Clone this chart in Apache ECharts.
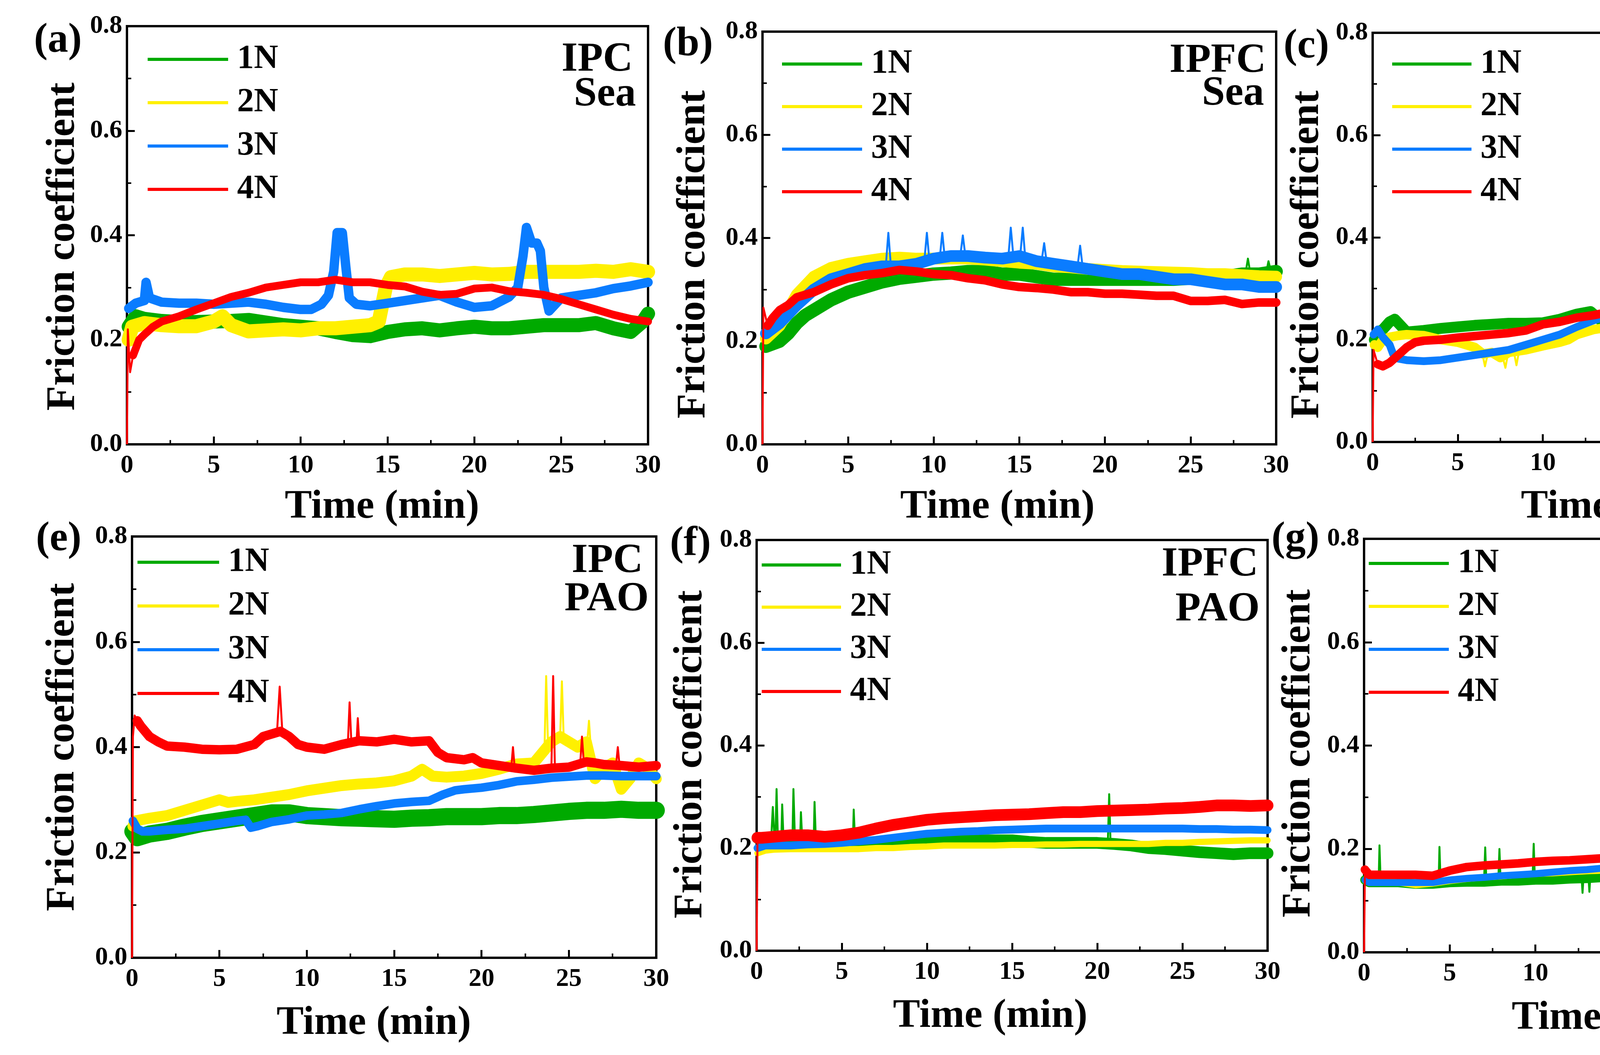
<!DOCTYPE html>
<html><head><meta charset="utf-8">
<script src="https://cdn.jsdelivr.net/npm/echarts/dist/echarts.min.js"></script>
<style>html,body{margin:0;padding:0;background:#fff;overflow:hidden}#c{width:6532px;height:2702px}</style>
</head><body><div id="c"></div>
<script>
// ---------------- DATA ----------------
const lineNames = ['1N','2N','3N','4N'];
const barCats = ['1 N','2 N','3 N','4 N'];
const yTicksFriction = [0, 0.2, 0.4, 0.6, 0.8];

// (a) IPC / Sea
const a1N = [[0.1,0.225],[0.5,0.245],[1,0.24],[2,0.236],[3,0.234],[4,0.234],[5,0.235],[6,0.236],[7,0.238],[8,0.233],[9,0.228],[10,0.225],[11,0.222],[12,0.215],[13,0.209],[14,0.207],[15,0.215],[16,0.22],[17,0.222],[18,0.218],[19,0.222],[20,0.225],[21,0.222],[22,0.222],[23,0.225],[24,0.228],[25,0.228],[26,0.228],[27,0.232],[28,0.222],[29,0.215],[29.7,0.235],[30,0.25]];
const a2N = [[0.1,0.2],[0.3,0.225],[1,0.232],[2,0.228],[3,0.226],[4,0.226],[5,0.235],[5.5,0.245],[6,0.228],[7,0.216],[8,0.218],[9,0.22],[10,0.218],[11,0.222],[12,0.222],[13,0.225],[14,0.228],[14.5,0.235],[14.9,0.3],[15.2,0.32],[16,0.325],[17,0.325],[18,0.322],[19,0.325],[20,0.328],[21,0.325],[22,0.326],[23,0.33],[24,0.33],[25,0.33],[26,0.33],[27,0.332],[28,0.33],[29,0.335],[30,0.33]];
const a3N = [[0.1,0.26],[0.5,0.27],[1,0.275],[1.1,0.31],[1.3,0.28],[2,0.272],[3,0.27],[4,0.27],[5,0.268],[6,0.27],[7,0.272],[8,0.268],[9,0.262],[10,0.258],[10.6,0.258],[11.2,0.268],[11.6,0.285],[11.9,0.33],[12.1,0.405],[12.4,0.405],[12.6,0.34],[12.8,0.28],[13.2,0.268],[14,0.265],[15,0.27],[16,0.275],[17,0.28],[18,0.285],[19,0.272],[20,0.262],[21,0.265],[22,0.282],[22.5,0.3],[22.8,0.36],[23,0.415],[23.3,0.385],[23.6,0.385],[23.8,0.37],[24,0.3],[24.3,0.255],[25,0.28],[26,0.285],[27,0.29],[28,0.298],[29,0.303],[30,0.31]];
const a4N = [[0.35,0.17],[0.7,0.2],[1,0.21],[1.5,0.225],[2,0.235],[3,0.245],[4,0.258],[5,0.27],[6,0.282],[7,0.29],[8,0.3],[9,0.305],[10,0.31],[11,0.31],[12,0.315],[13,0.31],[14,0.31],[15,0.305],[16,0.302],[17,0.292],[18,0.286],[19,0.288],[20,0.298],[21,0.3],[22,0.293],[23,0.29],[24,0.286],[25,0.278],[26,0.268],[27,0.258],[28,0.248],[29,0.24],[30,0.235]];
const a4N_pk = [[0,0],[0.05,0.22],[0.18,0.138],[0.35,0.17]];

// (b) IPFC / Sea
const b1N = [[0.2,0.19],[0.6,0.195],[1,0.2],[1.5,0.215],[2,0.235],[2.5,0.25],[3,0.26],[4,0.28],[5,0.295],[6,0.305],[7,0.315],[8,0.322],[9,0.326],[10,0.33],[11,0.332],[12,0.335],[13,0.335],[14,0.33],[15,0.33],[16,0.325],[17,0.32],[18,0.32],[19,0.32],[20,0.32],[21,0.32],[22,0.32],[23,0.32],[24,0.32],[25,0.322],[26,0.325],[27,0.325],[28,0.33],[29,0.33],[30,0.335]];
const b1N_pk = [[28.2,0.33],[28.35,0.36],[28.5,0.33],'-',[29.4,0.33],[29.55,0.355],[29.7,0.335]];
const b2N = [[0.2,0.205],[1,0.23],[2,0.29],[3,0.325],[4,0.342],[5,0.35],[6,0.355],[7,0.36],[8,0.362],[9,0.36],[10,0.36],[11,0.36],[12,0.36],[13,0.358],[14,0.355],[15,0.352],[16,0.35],[17,0.345],[18,0.343],[19,0.34],[20,0.338],[21,0.336],[22,0.335],[23,0.334],[24,0.333],[25,0.332],[26,0.33],[27,0.33],[28,0.328],[29,0.326],[30,0.325]];
const b3N = [[0.2,0.215],[1,0.235],[2,0.27],[3,0.3],[4,0.32],[5,0.33],[6,0.34],[7,0.345],[8,0.345],[9,0.35],[10,0.36],[11,0.365],[12,0.365],[13,0.362],[14,0.36],[15,0.365],[16,0.355],[17,0.35],[18,0.345],[19,0.34],[20,0.335],[21,0.33],[22,0.33],[23,0.325],[24,0.32],[25,0.32],[26,0.315],[27,0.31],[28,0.31],[29,0.305],[30,0.305]];
const b3N_pk = [[7.2,0.345],[7.35,0.41],[7.5,0.345],'-',[9.45,0.355],[9.6,0.41],[9.75,0.355],'-',[10.35,0.36],[10.5,0.41],[10.65,0.36],'-',[11.55,0.365],[11.7,0.405],[11.85,0.365],'-',[14.35,0.36],[14.5,0.42],[14.65,0.365],'-',[15.05,0.365],[15.2,0.42],[15.35,0.36],'-',[16.3,0.355],[16.45,0.39],[16.6,0.352],'-',[18.4,0.345],[18.55,0.385],[18.7,0.343]];
const b4N = [[0.3,0.23],[0.6,0.245],[1,0.26],[1.5,0.27],[2,0.285],[3,0.295],[4,0.31],[5,0.322],[6,0.328],[7,0.332],[8,0.338],[9,0.335],[10,0.33],[11,0.328],[12,0.322],[13,0.318],[14,0.31],[15,0.305],[16,0.303],[17,0.3],[18,0.295],[19,0.295],[20,0.292],[21,0.292],[22,0.29],[23,0.288],[24,0.288],[25,0.278],[26,0.278],[27,0.28],[28,0.272],[29,0.275],[30,0.275]];
const b4N_pk = [[0,0],[0.05,0.265],[0.3,0.23]];

// (c) IPEFC / Sea
const c1N = [[0.1,0.2],[0.3,0.215],[0.6,0.22],[1,0.235],[1.3,0.24],[2,0.215],[3,0.218],[4,0.222],[5,0.225],[6,0.228],[7,0.23],[8,0.232],[9,0.232],[10,0.233],[11,0.24],[12,0.25],[12.8,0.255],[13.5,0.235],[14,0.225],[15,0.215],[16,0.212],[17,0.21],[18,0.212],[19,0.208],[20,0.21],[21,0.215],[22,0.222],[23,0.23],[24,0.235],[25,0.245],[26,0.26],[27,0.272],[28,0.28],[29,0.285],[30,0.29]];
const c2N = [[0.1,0.19],[0.3,0.185],[0.6,0.2],[1,0.205],[1.5,0.208],[2,0.21],[3,0.208],[4,0.2],[5,0.195],[6,0.185],[6.5,0.172],[7,0.175],[7.5,0.165],[8,0.175],[9,0.18],[10,0.188],[11,0.195],[11.5,0.2],[12,0.21],[13,0.22],[14,0.225],[15,0.23],[16,0.228],[17,0.225],[18,0.222],[19,0.218],[20,0.215],[21,0.215],[22,0.215],[23,0.212],[24,0.21],[25,0.212],[26,0.212],[27,0.21],[28,0.21],[29,0.213],[30,0.215]];
const c2N_pk = [[6.45,0.172],[6.6,0.148],[6.75,0.17],'-',[7.65,0.165],[7.8,0.145],[7.95,0.172],'-',[8.3,0.176],[8.45,0.15],[8.6,0.177]];
const c3N = [[0.05,0.21],[0.3,0.22],[0.6,0.205],[1,0.19],[1.2,0.172],[1.5,0.163],[2,0.16],[3,0.158],[4,0.16],[5,0.165],[6,0.17],[7,0.175],[8,0.18],[9,0.19],[10,0.2],[11,0.21],[12,0.225],[13,0.238],[14,0.248],[15,0.253],[16,0.255],[17,0.253],[18,0.25],[19,0.245],[20,0.243],[21,0.242],[22,0.242],[23,0.243],[24,0.245],[25,0.248],[26,0.25],[27,0.248],[28,0.245],[29,0.243],[30,0.24]];
const c4N = [[0.3,0.152],[0.6,0.148],[1,0.155],[1.5,0.17],[2,0.185],[2.5,0.195],[3,0.198],[4,0.2],[5,0.204],[6,0.207],[7,0.21],[8,0.213],[9,0.218],[10,0.23],[11,0.235],[12,0.243],[13,0.248],[14,0.255],[15,0.26],[16,0.263],[17,0.266],[18,0.27],[19,0.27],[20,0.272],[21,0.272],[22,0.272],[23,0.272],[24,0.272],[25,0.272],[26,0.272],[27,0.272],[28,0.27],[29,0.27],[30,0.27]];
const c4N_pk = [[0,0],[0.05,0.18],[0.3,0.152]];

// (e) IPC / PAO
const e1N = [[0.05,0.24],[0.3,0.228],[1,0.235],[2,0.24],[3,0.248],[4,0.255],[5,0.26],[6,0.265],[7,0.27],[8,0.275],[9,0.275],[10,0.27],[11,0.268],[12,0.266],[13,0.265],[14,0.264],[15,0.263],[16,0.265],[17,0.266],[18,0.268],[19,0.268],[20,0.268],[21,0.27],[22,0.27],[23,0.272],[24,0.275],[25,0.278],[26,0.28],[27,0.28],[28,0.282],[29,0.28],[30,0.28]];
const e2N = [[0.05,0.25],[0.2,0.26],[1,0.265],[2,0.27],[3,0.28],[4,0.29],[5,0.3],[5.5,0.295],[6,0.297],[7,0.3],[8,0.305],[9,0.31],[10,0.317],[11,0.322],[12,0.327],[13,0.33],[14,0.332],[15,0.336],[16,0.345],[16.6,0.358],[17.2,0.345],[18,0.343],[19,0.345],[20,0.35],[21,0.358],[22,0.368],[23,0.37],[23.5,0.39],[24,0.41],[24.5,0.42],[25,0.41],[25.5,0.4],[26,0.41],[26.5,0.34],[27,0.36],[27.5,0.37],[28,0.32],[28.5,0.34],[29,0.37],[29.5,0.36],[30,0.34]];
const e2N_pk = [[23.6,0.39],[23.7,0.535],[23.8,0.41],'-',[24.5,0.42],[24.6,0.525],[24.7,0.42],'-',[26.05,0.41],[26.15,0.45],[26.25,0.4]];
const e3N = [[0.05,0.26],[0.3,0.245],[0.6,0.24],[1,0.24],[2,0.243],[3,0.245],[4,0.25],[5,0.255],[6,0.26],[6.5,0.262],[6.8,0.247],[7.2,0.25],[8,0.258],[9,0.263],[10,0.27],[11,0.272],[12,0.275],[13,0.282],[14,0.288],[15,0.293],[16,0.296],[17,0.298],[17.8,0.31],[18.5,0.318],[19,0.32],[20,0.323],[21,0.328],[22,0.335],[23,0.338],[24,0.342],[25,0.344],[26,0.346],[27,0.346],[28,0.345],[29,0.345],[30,0.345]];
const e4N = [[0.3,0.45],[0.5,0.44],[1,0.42],[1.5,0.41],[2,0.402],[3,0.4],[4,0.396],[5,0.395],[6,0.396],[7,0.405],[7.5,0.42],[8,0.425],[8.5,0.43],[9,0.42],[9.5,0.405],[10,0.4],[11,0.396],[12,0.405],[13,0.412],[14,0.41],[15,0.415],[16,0.41],[17,0.412],[17.5,0.39],[18,0.38],[19,0.376],[19.5,0.38],[20,0.37],[21,0.365],[22,0.36],[23,0.356],[24,0.36],[25,0.362],[26,0.372],[26.5,0.37],[27,0.367],[28,0.365],[29,0.362],[30,0.365]];
const e4N_pk = [[0,0],[0.05,0.42],[0.15,0.46],[0.3,0.45],'-',[8.3,0.43],[8.45,0.515],[8.6,0.43],'-',[12.35,0.405],[12.45,0.485],[12.55,0.41],'-',[12.85,0.41],[12.92,0.455],[13.0,0.412],'-',[21.7,0.36],[21.8,0.4],[21.9,0.36],'-',[24.0,0.36],[24.1,0.535],[24.2,0.36],'-',[25.65,0.37],[25.75,0.42],[25.85,0.372],'-',[27.7,0.366],[27.8,0.4],[27.9,0.365]];

// (f) IPFC / PAO
const f1N = [[0.05,0.22],[0.5,0.215],[1,0.215],[2,0.215],[3,0.212],[4,0.21],[5,0.21],[6,0.21],[7,0.21],[8,0.212],[9,0.215],[10,0.215],[11,0.215],[12,0.215],[13,0.215],[14,0.215],[15,0.215],[16,0.212],[17,0.21],[18,0.21],[19,0.21],[20,0.21],[21,0.208],[22,0.205],[23,0.2],[24,0.198],[25,0.195],[26,0.192],[27,0.19],[28,0.188],[29,0.19],[30,0.19]];
const f1N_pk = [[0.85,0.215],[0.95,0.28],[1.05,0.215],'-',[1.1,0.215],[1.17,0.315],[1.25,0.215],'-',[1.45,0.215],[1.5,0.285],[1.58,0.215],'-',[2.1,0.215],[2.16,0.315],[2.25,0.215],'-',[2.55,0.213],[2.6,0.27],[2.68,0.213],'-',[3.35,0.212],[3.4,0.29],[3.48,0.212],'-',[5.65,0.21],[5.7,0.275],[5.78,0.21],'-',[20.62,0.21],[20.7,0.305],[20.78,0.21]];
const f2N = [[0.05,0.19],[0.5,0.195],[1,0.197],[2,0.198],[3,0.198],[4,0.198],[5,0.198],[6,0.198],[7,0.2],[8,0.2],[9,0.202],[10,0.203],[11,0.205],[12,0.205],[13,0.205],[14,0.205],[15,0.206],[16,0.206],[17,0.207],[18,0.207],[19,0.208],[20,0.208],[21,0.208],[22,0.208],[23,0.208],[24,0.21],[25,0.21],[26,0.212],[27,0.213],[28,0.214],[29,0.215],[30,0.215]];
const f3N = [[0.05,0.2],[0.5,0.205],[1,0.205],[2,0.205],[3,0.207],[4,0.208],[5,0.21],[6,0.213],[7,0.216],[8,0.22],[9,0.224],[10,0.228],[11,0.23],[12,0.232],[13,0.233],[14,0.235],[15,0.236],[16,0.237],[17,0.238],[18,0.238],[19,0.238],[20,0.238],[21,0.238],[22,0.238],[23,0.238],[24,0.238],[25,0.238],[26,0.237],[27,0.237],[28,0.236],[29,0.236],[30,0.235]];
const f4N = [[0.05,0.22],[0.3,0.22],[1,0.222],[2,0.225],[3,0.225],[4,0.222],[5,0.225],[6,0.23],[7,0.238],[8,0.245],[9,0.25],[10,0.255],[11,0.258],[12,0.26],[13,0.262],[14,0.264],[15,0.265],[16,0.266],[17,0.268],[18,0.27],[19,0.27],[20,0.272],[21,0.273],[22,0.274],[23,0.275],[24,0.277],[25,0.278],[26,0.28],[27,0.283],[28,0.283],[29,0.282],[30,0.283]];
const f4N_pk = [[0,0],[0.05,0.22]];

// (g) IPEFC / PAO
const g1N = [[0.05,0.14],[0.3,0.135],[1,0.135],[2,0.135],[3,0.132],[4,0.132],[5,0.135],[6,0.136],[7,0.136],[8,0.138],[9,0.138],[10,0.14],[11,0.14],[12,0.142],[13,0.143],[14,0.145],[15,0.146],[16,0.147],[17,0.148],[18,0.148],[19,0.148],[20,0.148],[21,0.15],[22,0.15],[23,0.15],[24,0.15],[25,0.152],[26,0.152],[27,0.153],[28,0.153],[29,0.152],[30,0.152]];
const g1N_pk = [[0.85,0.135],[0.9,0.207],[0.97,0.135],'-',[4.35,0.132],[4.4,0.204],[4.47,0.132],'-',[7.0,0.136],[7.07,0.203],[7.14,0.136],'-',[7.83,0.137],[7.9,0.2],[7.97,0.137],'-',[9.83,0.14],[9.9,0.21],[9.97,0.14],'-',[12.7,0.142],[12.75,0.115],[12.8,0.142],'-',[13.1,0.143],[13.15,0.117],[13.2,0.143],'-',[15.0,0.146],[15.05,0.12],[15.1,0.146]];
const g2N = [[0.05,0.16],[0.3,0.145],[1,0.14],[2,0.135],[3,0.13],[4,0.133],[5,0.138],[6,0.142],[7,0.145],[8,0.147],[9,0.15],[10,0.152],[11,0.153],[12,0.155],[13,0.157],[14,0.158],[15,0.16],[16,0.16],[17,0.16],[18,0.16],[19,0.16],[20,0.16],[21,0.162],[22,0.163],[23,0.165],[24,0.167],[25,0.168],[26,0.17],[27,0.17],[28,0.17],[29,0.171],[30,0.172]];
const g3N = [[0.05,0.14],[0.3,0.135],[1,0.135],[2,0.135],[3,0.135],[4,0.135],[5,0.14],[6,0.143],[7,0.145],[8,0.148],[9,0.15],[10,0.152],[11,0.155],[12,0.158],[13,0.16],[14,0.163],[15,0.165],[16,0.168],[17,0.17],[18,0.172],[19,0.174],[20,0.176],[21,0.178],[22,0.178],[23,0.18],[24,0.182],[25,0.184],[26,0.185],[27,0.186],[28,0.187],[29,0.188],[30,0.188]];
const g4N = [[0.05,0.16],[0.3,0.15],[1,0.15],[2,0.15],[3,0.15],[4,0.148],[5,0.158],[6,0.165],[7,0.168],[8,0.17],[9,0.172],[10,0.175],[11,0.177],[12,0.178],[13,0.18],[14,0.182],[15,0.183],[16,0.185],[17,0.185],[18,0.186],[19,0.186],[20,0.188],[21,0.19],[22,0.19],[23,0.19],[24,0.192],[25,0.193],[26,0.195],[27,0.196],[28,0.196],[29,0.196],[30,0.196]];
const g4N_pk = [[0,0],[0.05,0.16]];

// (d) wear track width, sea water
const dIPC = [0.350,0.368,0.368,0.481],  dIPC_err = [0.030,0.031,0.032,0.047];
const dIPFC = [0.376,0.350,0.363,0.439], dIPFC_err = [0.039,0.031,0.030,0.033];
const dIPEFC = [0.361,0.335,0.331,0.368], dIPEFC_err = [0.045,0.052,0.047,0.023];
// (h) wear track width, PAO
const hIPC = [0.362,0.389,0.448,0.478],  hIPC_err = [0.046,0.017,0.037,0.034];
const hIPFC = [0.365,0.369,0.410,0.454], hIPFC_err = [0.023,0.055,0.027,0.008];
const hIPFFC = [0.209,0.223,0.284,0.311], hIPFFC_err = [0.039,0.039,0.032,0.045];

// ---------------- LAYOUT & STYLE ----------------
const F = 'Liberation Serif';
const lineColors = ['#00AA00','#FFF000','#0A7CFF','#FF0000'];
const GRIDS = [
  [325,67,1334,1071],[1952,81,1315,1057],[3514,84,1307,1048],[5109,97,1354,1091],
  [338,1374,1342,1079],[1937,1383,1308,1052],[3492,1380,1316,1059],[5101,1397,1386,1114]
];
const LP = [
  {g:0,d:[a1N,a2N,a3N,a4N],pk:[null,null,null,a4N_pk],w:[36,36,24,20],xg:109,xp:28,yg:111,yp:58,lg:[378,109,206,25],t:[['IPC',1620,154],['Sea',1628,243]],lab:['(a)',87,105]},
  {g:1,d:[b1N,b2N,b3N,b4N],pk:[b1N_pk,null,b3N_pk,b4N_pk],w:[34,30,30,22],xg:109,xp:112,yg:124,yp:84,lg:[2002,121,205,23],t:[['IPFC',3241,157],['Sea',3236,241]],lab:['(b)',1697,115]},
  {g:2,d:[c1N,c2N,c3N,c4N],pk:[null,c2N_pk,null,c4N_pk],w:[28,24,20,22],xg:115,xp:50,yg:115,yp:88,lg:[3564,121,203,23],t:[['IPEFC',4789,162],['Sea',4783,272]],lab:['(c)',3286,120]},
  {g:4,d:[e1N,e2N,e3N,e4N],pk:[null,e2N_pk,null,e4N_pk],w:[44,28,22,24],xg:116,xp:104,yg:125,yp:0,lg:[352,1397,209,26],t:[['IPC',1646,1438],['PAO',1661,1536]],lab:['(e)',92,1382]},
  {g:5,d:[f1N,f2N,f3N,f4N],pk:[f1N_pk,null,null,f4N_pk],w:[30,16,20,30],xg:116,xp:112,yg:117,yp:46,lg:[1950,1404,203,22],t:[['IPFC',3221,1447],['PAO',3225,1562]],lab:['(f)',1715,1394]},
  {g:6,d:[g1N,g2N,g3N,g4N],pk:[g1N_pk,null,null,g4N_pk],w:[24,16,18,22],xg:117,xp:62,yg:115,yp:40,lg:[3504,1400,205,24],t:[['IPEFC',4791,1437],['PAO',4791,1546]],lab:['(g)',3255,1382]}
];
const BAR_GAP = 0.19;
const BP = [
  {g:3,s:[['IPC',dIPC,dIPC_err,'#8C9EFF'],['IPFC',dIPFC,dIPFC_err,'#FFB3FF'],['IPEFC',dIPEFC,dIPEFC_err,'#47D7FF']],
   yg:139,yp:88,yl:68,lg:[5158,121,143,69,80,80,17.5],note:['Under Sea Condition',6449,177,72],lab:['(d)',4840,128]},
  {g:7,s:[['IPC',hIPC,hIPC_err,'#80E500'],['IPFC',hIPFC,hIPFC_err,'#EEE660'],['IPFFC',hIPFFC,hIPFFC_err,'#FFA85E']],
   yg:133,yp:0,yl:72,lg:[5138,1421,189,94,92,94,21],note:['Under PAO Condition',6470,1478,73],lab:['(h)',4842,1378]}
];

const lbl = s => ({fontFamily:F, fontWeight:'bold', fontSize:s, color:'#000'});
const axLine = {show:true, onZero:false, lineStyle:{color:'#000', width:6}};
const tick = len => ({show:true, inside:true, length:len, lineStyle:{color:'#000', width:5}});
const minor = {show:true, splitNumber:2, length:11, lineStyle:{color:'#000', width:4}};
const txt = (text, x, y, size, align) => ({type:'text', x, y, silent:true, z:100,
  style:{text, fill:'#000', font:'bold '+size+'px "'+F+'"', textAlign:align, align:align, textVerticalAlign:'middle', verticalAlign:'middle'}});

const xAxes = [], yAxes = [], series = [], legends = [], graphics = [];

LP.forEach((p, i) => {
  xAxes.push({type:'value', gridIndex:p.g, min:0, max:30, interval:5, axisLine:axLine, axisTick:tick(20), minorTick:minor,
    splitLine:{show:false}, minorSplitLine:{show:false}, axisLabel:{...lbl(66), margin:22},
    name:'Time (min)', nameLocation:'middle', nameGap:p.xg, nameTextStyle:{...lbl(104), padding:[0,p.xp,0,0]}});
  yAxes.push({type:'value', gridIndex:p.g, min:yTicksFriction[0], max:yTicksFriction[yTicksFriction.length-1], interval:0.2,
    axisLine:axLine, axisTick:tick(20), minorTick:minor, splitLine:{show:false}, minorSplitLine:{show:false},
    axisLabel:{...lbl(66), margin:12, formatter:v => v.toFixed(1)},
    name:'Friction coefficient', nameLocation:'middle', nameGap:p.yg, nameTextStyle:{...lbl(104), padding:[0,p.yp,0,0]}});
  p.d.forEach((arr, k) => {
    series.push({type:'line', name:lineNames[k], xAxisIndex:i, yAxisIndex:i, data:arr, symbol:'none', showSymbol:false,
      silent:true, animation:false, z:2+k, lineStyle:{color:lineColors[k], width:p.w[k], join:'round', cap:'round'},
      itemStyle:{color:lineColors[k]}});
    if (p.pk[k]) series.push({type:'line', name:lineNames[k], xAxisIndex:i, yAxisIndex:i, data:p.pk[k], symbol:'none',
      showSymbol:false, connectNulls:false, silent:true, animation:false, z:2+k,
      lineStyle:{color:lineColors[k], width:5, join:'round'}, itemStyle:{color:lineColors[k]}});
  });
  legends.push({orient:'vertical', left:p.lg[0], top:p.lg[1], itemWidth:p.lg[2], itemHeight:8, itemGap:p.lg[3], icon:'rect',
    padding:0, selectedMode:false, textStyle:{...lbl(86), lineHeight:86, padding:[0,0,0,18]},
    data:lineNames.map((n,k) => ({name:n, itemStyle:{color:lineColors[k], borderWidth:0}}))});
  graphics.push(txt(p.t[0][0], p.t[0][1], p.t[0][2], 106, 'right'));
  graphics.push(txt(p.t[1][0], p.t[1][1], p.t[1][2], 106, 'right'));
  graphics.push(txt(p.lab[0], p.lab[1], p.lab[2], 105, 'left'));
});

BP.forEach((b, j) => {
  const xi = 6 + j, yi = 6 + j;
  xAxes[xi] = {type:'category', gridIndex:b.g, data:barCats, axisLine:axLine,
    axisTick:{...tick(20), alignWithLabel:true}, axisLabel:{...lbl(72), margin:22}, splitLine:{show:false}};
  yAxes[yi] = {type:'value', gridIndex:b.g, min:0, max:0.8, interval:0.1, axisLine:axLine, axisTick:tick(20), minorTick:minor,
    splitLine:{show:false}, minorSplitLine:{show:false}, axisLabel:{...lbl(b.yl), margin:24, formatter:v => v.toFixed(1)},
    name:'Wear track width (mm)', nameLocation:'middle', nameGap:b.yg, nameTextStyle:{...lbl(98), padding:[0,b.yp,0,0]}};
  b.s.forEach((s, k) => {
    series.push({type:'bar', name:s[0], xAxisIndex:xi, yAxisIndex:yi, data:s[1], barGap:'0%', barCategoryGap:(BAR_GAP*100)+'%',
      itemStyle:{color:s[3]}, silent:true, animation:false, z:2});
    series.push({type:'custom', name:s[0]+' err', xAxisIndex:xi, yAxisIndex:yi, silent:true, animation:false, z:5,
      data:s[1].map((v,i2) => [i2, v, s[2][i2]]),
      renderItem:(params, api) => {
        const c = api.value(0), v = api.value(1), e = api.value(2);
        const p0 = api.coord([c, v]);
        const band = api.size([1, 0])[0];
        const bw = band * (1 - BAR_GAP) / 3;
        const x = p0[0] + (k - 1) * bw;
        const yT = api.coord([c, v + e])[1], yB = api.coord([c, v - e])[1];
        const st = {stroke:'#000', lineWidth:6};
        return {type:'group', children:[
          {type:'line', shape:{x1:x, y1:yT, x2:x, y2:yB}, style:st},
          {type:'line', shape:{x1:x-13, y1:yT, x2:x+13, y2:yT}, style:st},
          {type:'line', shape:{x1:x-13, y1:yB, x2:x+13, y2:yB}, style:st}]};
      }});
  });
  legends.push({orient:'vertical', left:b.lg[0], top:b.lg[1], itemWidth:b.lg[2], itemHeight:b.lg[3], itemGap:b.lg[6], icon:'rect',
    padding:0, selectedMode:false, textStyle:{...lbl(b.lg[4]), lineHeight:b.lg[5], padding:[0,0,0,19]},
    data:b.s.map(s => ({name:s[0], itemStyle:{color:s[3], borderWidth:0}}))});
  graphics.push(txt(b.note[0], b.note[1], b.note[2], b.note[3], 'right'));
  graphics.push(txt(b.lab[0], b.lab[1], b.lab[2], 105, 'left'));
});
// small ticks on the category boundaries of the bar panels
BP.forEach((b, j) => {
  xAxes[8 + j] = {type:'value', gridIndex:b.g, min:0, max:4, interval:1, position:'bottom',
    axisLine:{show:false}, axisTick:{show:true, inside:true, length:9, lineStyle:{color:'#000', width:5}},
    axisLabel:{show:false}, splitLine:{show:false}};
});

const option = {
  animation:false, backgroundColor:'#fff', textStyle:{fontFamily:F},
  grid:GRIDS.map(g => ({left:g[0], top:g[1], width:g[2], height:g[3], show:true, borderColor:'#000', borderWidth:6,
    backgroundColor:'transparent', containLabel:false, outerBoundsMode:'none'})),
  xAxis:xAxes, yAxis:yAxes, legend:legends, series:series, graphic:graphics
};
const chart = echarts.init(document.getElementById('c'), null, {renderer:'canvas'});
chart.setOption(option);
</script></body></html>
